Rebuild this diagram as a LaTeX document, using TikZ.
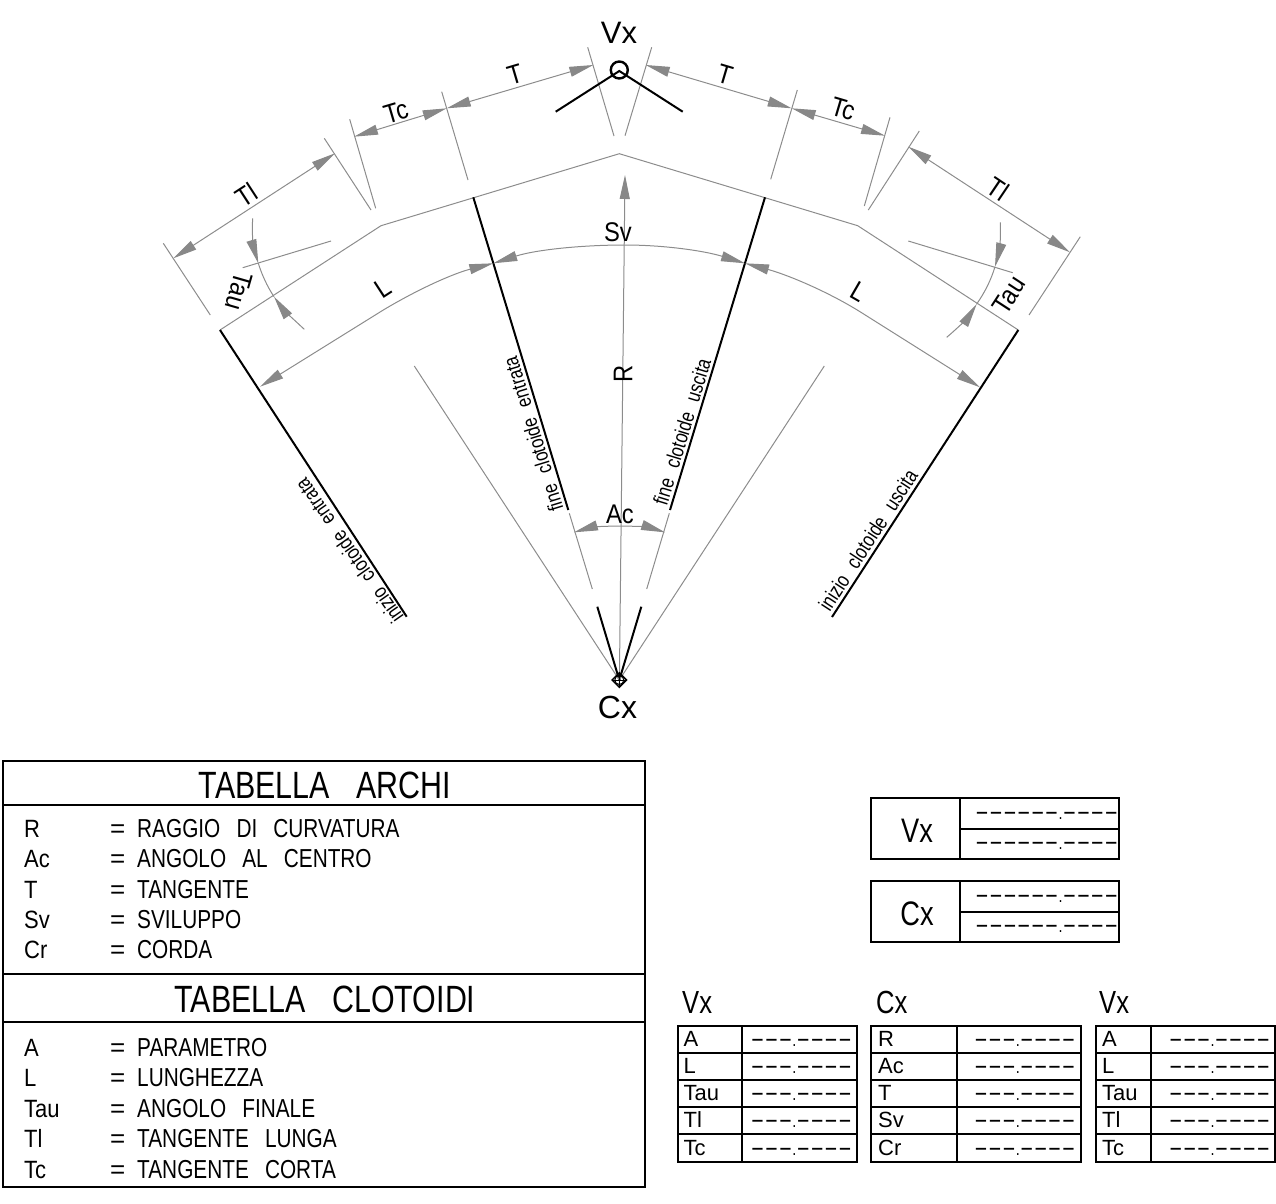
\documentclass[tikz,border=0pt]{standalone}
\usepackage{fontspec}
\usepackage{graphicx}
\setmainfont[FakeStretch=0.8]{Liberation Sans}
\newfontfamily\cellfont{Liberation Sans}
\newfontfamily\symfont[FakeStretch=0.88]{Liberation Sans}
\usetikzlibrary{arrows.meta,shapes.geometric}
\definecolor{dimgray}{HTML}{8C8C8C}
\definecolor{headgray}{HTML}{888888}
\newcommand\fs[1]{\fontsize{#1}{#1}\selectfont}
\newcommand\dq{\scalebox{2.9}[1.3]{-}}
\newcommand\longdash{\makebox[142pt][s]{\dq\hfil\dq\hfil\dq\hfil\dq\hfil\dq\hfil\dq\hfil.\hfil\dq\hfil\dq\hfil\dq\hfil\dq}}
\newcommand\shortdash{\makebox[101pt][s]{\dq\hfil\dq\hfil\dq\hfil.\hfil\dq\hfil\dq\hfil\dq\hfil\dq}}
\newcommand\gap{\hspace{0.35em}}
\newcommand\wgap{\hspace{0.62em}}
\tikzset{
  x=1pt,y=-1pt,
  thin gray/.style={draw=dimgray,line width=1pt},
  heavy/.style={draw=black,line width=2pt},
  frame/.style={draw=black,line width=2pt},
  tipshape/.tip={Triangle[length=24pt,width=10pt,fill=headgray,color=headgray]},
  both tips/.style={thin gray,{tipshape}-{tipshape}},
  end tip/.style={thin gray,-{tipshape}},
  lab/.style={inner sep=0pt,text=black,font=\symfont\fs{27}},
  big/.style={inner sep=0pt,text=black,font=\cellfont\fs{32}},
  small/.style={inner sep=0pt,text=black,font=\fs{21}},
  legend/.style={inner sep=0pt,anchor=base west,text=black,font=\fs{26}},
  legsym/.style={inner sep=0pt,anchor=base west,text=black,font=\symfont\fs{25}},
  cell/.style={inner sep=0pt,anchor=west,text=black,font=\cellfont\fs{22}},
  dashes/.style={inner sep=0pt,anchor=west,text=black,font=\fs{18}},
}
\begin{document}
\begin{tikzpicture}
\useasboundingbox (0,0) rectangle (1276,1203);
% key points
\coordinate (V) at (619.3,71);
\coordinate (C) at (619.3,680);
\coordinate (P1) at (220,330);
\coordinate (P2) at (381,225.7);
\coordinate (P3) at (619.3,153.7);
\coordinate (P4) at (857.7,225.7);
\coordinate (P5) at (1018.3,330);
\coordinate (Q1) at (473.3,197.3);
\coordinate (Q2) at (765,197.3);
% tangent polygon
\draw[thin gray] (P1) -- (P2) -- (P3) -- (P4) -- (P5);
% radial heavy lines
\draw[heavy] (P1) -- (406.7,616.7);
\draw[heavy] (P5) -- (832,617);
\draw[heavy] (Q1) -- (568.3,510);
\draw[heavy] (Q2) -- (670,510);
\draw[heavy] (597.3,606.7) -- (C);
\draw[heavy] (641.3,606.7) -- (C);
\draw[thin gray] (569.3,513.3) -- (592.3,589);
\draw[thin gray] (669.3,513.3) -- (646.7,589);
\draw[thin gray] (414.3,366) -- (C);
\draw[thin gray] (824.3,366) -- (C);
% extension lines
\draw[thin gray] (587.7,47.3) -- (614,136);
\draw[thin gray] (651.7,47.3) -- (625,135.7);
\draw[thin gray] (441.7,91.7) -- (468,180);
\draw[thin gray] (797.3,90) -- (770.7,179.3);
\draw[thin gray] (349.7,119.3) -- (375.7,208.3);
\draw[thin gray] (890,117.3) -- (864.3,206);
\draw[thin gray] (324.3,138.3) -- (371,210);
\draw[thin gray] (919.3,131) -- (868.3,210);
\draw[thin gray] (163.3,243.3) -- (210.3,315);
\draw[thin gray] (1080.3,236.7) -- (1029,315);
\draw[thin gray] (242.7,267.7) -- (331,241);
\draw[thin gray] (908.3,241) -- (1012.7,272.7);
% dimension lines
\draw[both tips] (446.7,108.3) -- (593.3,65);
\draw[both tips] (354,136.7) -- (446.7,108.3);
\draw[both tips] (173.3,258.3) -- (335,153.3);
\draw[both tips] (645.7,65) -- (791.7,108.3);
\draw[both tips] (791.7,108.3) -- (885,135.7);
\draw[both tips] (908.3,146.7) -- (1070,252.3);
% R
\draw[end tip] (619.3,688) -- (625,175);
% arcs
\draw[both tips] (260,386.7) -- (383.3,310) .. controls (420,288) and (455,273) .. (493.3,263.3);
\draw[both tips] (493.3,263.3) .. controls (535,250) and (580,245) .. (625,245) .. controls (665,245) and (705,251) .. (745,263.3);
\draw[both tips] (745,263.3) .. controls (785,274) and (825,290) .. (860,311.7) -- (980,387.3);
\draw[both tips] (574,532.3) .. controls (590,527.5) and (605,526) .. (620,526) .. controls (635,526) and (650,527.5) .. (665,532.3);
% tau arcs
\draw[end tip] (252.7,218.3) .. controls (251.5,233) and (254,249) .. (258.3,263.3);
\draw[thin gray] (258.3,263.3) .. controls (262,275) and (267,286) .. (274,296.7);
\draw[end tip] (304.3,329.3) .. controls (292,318) and (282,308) .. (274,296.7);
\draw[end tip] (1000.3,222.3) .. controls (1001,237) and (999,252) .. (995,266.7);
\draw[thin gray] (995,266.7) .. controls (991,280) and (985,292) .. (976.7,304);
\draw[end tip] (946.7,337.3) .. controls (959,327) and (969,316) .. (976.7,304);
% Vx symbol
\draw[heavy] (555.7,111.7) -- (V) -- (682.7,111.7);
\node[circle,draw=black,line width=2.4pt,minimum size=17pt,inner sep=0pt] (Vc) at (619.3,70) {};
% Cx symbol
\node[diamond,draw=black,line width=1.5pt,minimum size=15pt,inner sep=0pt] (Cd) at (C) {};
\node[circle,draw=black,line width=1pt,minimum size=9pt,inner sep=0pt] (Cc) at (C) {};
\draw[black,line width=.8pt] (612,680) -- (626.6,680) (619.3,672.7) -- (619.3,687.3);
% labels
\node[big,font=\cellfont\fs{31}] (tV) at (619,33) {Vx};
\node[big] (tC) at (617.5,707) {Cx};
\node[lab,rotate=16.5] (tT1) at (515,75) {T};
\node[lab,rotate=16.5] (tTc1) at (396,112) {Tc};
\node[lab,rotate=33] (tTl1) at (246.7,195) {Tl};
\node[lab,rotate=-106] (tTau1) at (239,291) {Tau};
\node[lab,rotate=33] (tL1) at (383,288) {L};
\node[lab,rotate=-16.5] (tT2) at (725,75) {T};
\node[lab,rotate=-16.5] (tTc2) at (843,109) {Tc};
\node[lab,rotate=-34] (tTl2) at (998,189) {Tl};
\node[lab,rotate=-30] (tL2) at (859,292) {L};
\node[lab,rotate=57] (tTau2) at (1009,295) {Tau};
\node[lab,rotate=90] (tR) at (623,374) {R};
\node[lab] (tSv) at (618,232) {Sv};
\node[lab] (tAc) at (620,514) {Ac};
\node[small,rotate=107] (f1) at (533,434) {fine\hspace{.55em}clotoide\hspace{.55em}entrata};
\node[small,rotate=73] (f2) at (682,432) {fine\hspace{.55em}clotoide\hspace{.55em}uscita};
\node[small,rotate=57] (i2) at (868,540) {inizio\hspace{.55em}clotoide\hspace{.55em}uscita};
\node[small,rotate=125] (i1) at (349,551) {inizio\hspace{.55em}clotoide\hspace{.55em}entrata};
% legend frame
\draw[frame] (3,761) rectangle (645,1187);
\draw[frame] (3,805) -- (645,805);
\draw[frame] (3,974) -- (645,974);
\draw[frame] (3,1022) -- (645,1022);
\node[lab,font=\fs{38}] (h1) at (325,785) {TABELLA\gap\gap ARCHI};
\node[lab,font=\fs{38}] (h2) at (325,999) {TABELLA\gap\gap CLOTOIDI};
\foreach \yy/\ss/\vv in {837/R/RAGGIO\wgap DI\wgap CURVATURA,867/Ac/ANGOLO\wgap AL\wgap CENTRO,898/T/TANGENTE,928/Sv/SVILUPPO,958/Cr/CORDA,1056/A/PARAMETRO,1086/L/LUNGHEZZA,1117/Tau/ANGOLO\wgap FINALE,1147/Tl/TANGENTE\wgap LUNGA,1178/Tc/TANGENTE\wgap CORTA}{
  \node[legsym] at (24,\yy) {\ss};
  \node[legend] at (110,\yy) {\scalebox{1.25}[1]{=}};
  \node[legend] at (137,\yy) {\vv};
}
% coordinate boxes
\foreach \yt/\nm in {798/Vx,881/Cx}{
  \draw[frame] (871,\yt) rectangle (1119,\yt+61);
  \draw[frame] (960,\yt) -- (960,\yt+61);
  \draw[frame] (960,\yt+30.5) -- (1119,\yt+30.5);
  \node[lab,font=\fs{34}] at (917,\yt+33) {\nm};
  \node[dashes] at (975,\yt+17.5) {\longdash};
  \node[dashes] at (975,\yt+47.5) {\longdash};
}
% data tables
\foreach \xa/\xb/\xc/\xt/\xd/\lx/\nm/\ra/\rb/\rc/\rd/\re in {
  677.7/741.5/856.5/683.5/750.5/682/Vx/A/L/Tau/Tl/Tc,
  871/957/1080.5/878/974/876/Cx/R/Ac/T/Sv/Cr,
  1095.8/1151.3/1275/1102/1168.7/1099/Vx/A/L/Tau/Tl/Tc}{
  \draw[frame] (\xa,1025.7) rectangle (\xc,1161.7);
  \draw[frame] (\xb,1025.7) -- (\xb,1161.7);
  \foreach \yy in {1052.7,1080,1106.7,1134}{\draw[frame] (\xa,\yy) -- (\xc,\yy);}
  \node[cell,font=\fs{32}] at (\lx,1002) {\nm};
  \node[cell] at (\xt,1039) {\ra};
  \node[cell] at (\xt,1066) {\rb};
  \node[cell] at (\xt,1093) {\rc};
  \node[cell] at (\xt,1120) {\rd};
  \node[cell] at (\xt,1148) {\re};
  \foreach \yy in {1039,1066,1093,1120,1148}{\node[dashes] at (\xd,\yy+4) {\shortdash};}
}
\end{tikzpicture}
\end{document}
